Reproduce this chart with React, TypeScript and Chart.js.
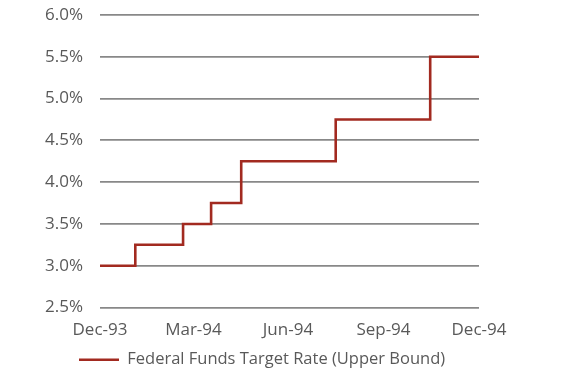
import React, { useEffect, useRef } from "react";
import { Chart, registerables } from "chart.js";

Chart.register(...registerables);

// Days since Dec 31, 1993 at which the target rate changed
const stepDays = [0, 34, 80, 107, 136, 227, 318, 365];
const rateValues = [3.0, 3.25, 3.5, 3.75, 4.25, 4.75, 5.5, 5.5];
const tickDays = [0, 90, 181, 273, 365];
const tickLabels = ["Dec-93", "Mar-94", "Jun-94", "Sep-94", "Dec-94"];
const seriesName = "Federal Funds Target Rate (Upper Bound)";

const legendShift = {
  id: "legendShift",
  afterLayout(chart: any) {
    if (chart.legend) {
      chart.legend.left = 75;
      chart.legend.top += 7;
    }
  },
};

export default function App() {
  const ref = useRef<HTMLCanvasElement | null>(null);

  useEffect(() => {
    if (!ref.current) return;
    const tickFont = { family: "'Open Sans', sans-serif", size: 17 };
    const legendFont = { family: "'Open Sans', sans-serif", size: 16.5 };
    const chart = new Chart(ref.current, {
      type: "line",
      data: {
        datasets: [
          {
            label: seriesName,
            data: stepDays.map((d, i) => ({ x: d, y: rateValues[i] })),
            borderColor: "#A22A20",
            backgroundColor: "#A22A20",
            borderWidth: 2.6,
            pointRadius: 0,
            stepped: "before",
            fill: false,
          },
        ],
      },
      plugins: [legendShift],
      options: {
        animation: false,
        responsive: true,
        maintainAspectRatio: false,
        layout: { padding: { left: 0, right: 101, top: 15, bottom: 9 } },
        plugins: {
          tooltip: { enabled: false },
          legend: {
            position: "bottom",
            align: "start",
            labels: {
              color: "#595959",
              font: legendFont,
              usePointStyle: true,
              pointStyle: "line",
              pointStyleWidth: 40,
              boxHeight: 3,
              padding: 4,
            },
          },
        },
        scales: {
          x: {
            type: "linear",
            min: 0,
            max: 365,
            afterBuildTicks: (axis: any) => {
              axis.ticks = tickDays.map((v) => ({ value: v }));
            },
            afterFit: (axis: any) => {
              axis.height = 33;
            },
            ticks: {
              autoSkip: false,
              maxRotation: 0,
              color: "#595959",
              font: tickFont,
              padding: 12,
              callback: (v: any) => {
                const i = tickDays.indexOf(Number(v));
                return i >= 0 ? tickLabels[i] : "";
              },
            },
            grid: { display: false, drawTicks: false },
            border: { display: false },
          },
          y: {
            min: 2.5,
            max: 6.0,
            afterFit: (axis: any) => {
              axis.width = 100;
              axis.paddingTop = 0;
              axis.paddingBottom = 0;
            },
            ticks: {
              stepSize: 0.5,
              color: "#595959",
              font: tickFont,
              padding: 17,
              callback: (v: any) => Number(v).toFixed(1) + "%",
            },
            grid: { color: "#888888", lineWidth: 1.8, drawTicks: false },
            border: { display: false },
          },
        },
      },
    });
    return () => chart.destroy();
  }, []);

  return (
    <div style={{ position: "fixed", left: 0, top: 0, width: 580, height: 380 }}>
      <canvas ref={ref} />
    </div>
  );
}
